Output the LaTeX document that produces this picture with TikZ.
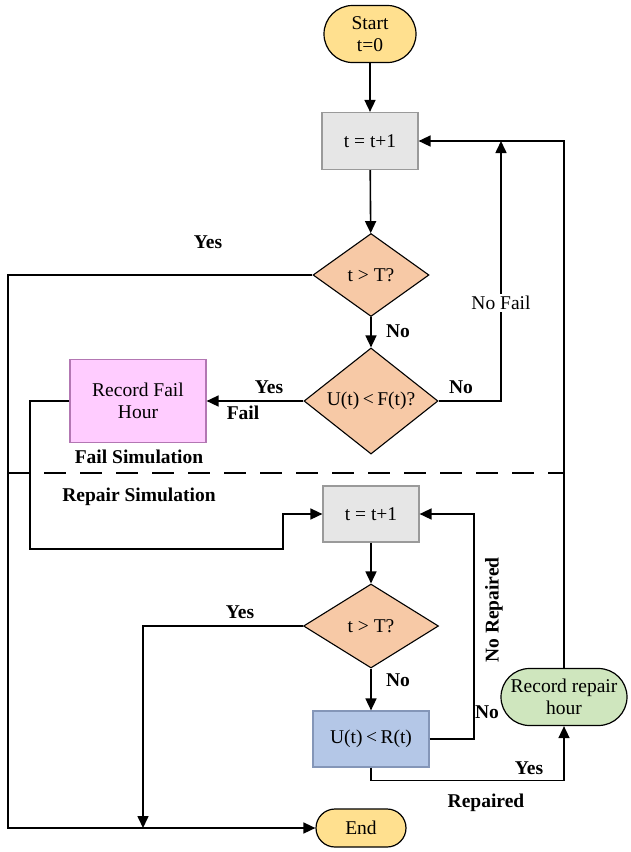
\documentclass[tikz,border=0pt]{standalone}
\usepackage{fontspec}
\setmainfont{Liberation Serif}
\usetikzlibrary{shapes.geometric,shapes.misc,arrows.meta}

\definecolor{termfill}{HTML}{FFE08F}
\definecolor{procfill}{HTML}{E6E6E6}
\definecolor{procline}{HTML}{9A9A9A}
\definecolor{decfill}{HTML}{F7C9A6}
\definecolor{failfill}{HTML}{FFCCFF}
\definecolor{failline}{HTML}{B377B3}
\definecolor{repfill}{HTML}{B4C7E7}
\definecolor{repline}{HTML}{8496B8}
\definecolor{okfill}{HTML}{CFE6BE}

\begin{document}
\begin{tikzpicture}[x=1pt,y=-1pt,
  every node/.style={font=\fontsize{19.5}{22}\selectfont},
  flow/.style={line width=1.6pt, draw=black},
  arr/.style={flow, -{Triangle[length=12pt,width=11pt]}},
  terminal/.style={rounded rectangle, draw=black, line width=1.2pt, fill=termfill,
    align=center, inner sep=2pt},
  process/.style={rectangle, draw=procline, line width=1.2pt, fill=procfill,
    align=center, inner sep=2pt},
  decision/.style={diamond, draw=black, line width=1.1pt, fill=decfill,
    align=center, inner sep=0pt},
  lbl/.style={font=\bfseries\fontsize{19.5}{22}\selectfont, inner sep=1pt}
]
\useasboundingbox (0,0) rectangle (630,852);

% nodes of the flow chart
\node[terminal, minimum width=96pt, minimum height=57pt] (start) at (370,34) {Start\\t=0};
\node[process, minimum width=96pt, minimum height=57pt] (inc1) at (370,141) {t = t+1};
\node[decision, minimum width=116pt, minimum height=83pt] (dec1) at (371,275) {t > T?};
\node[decision, minimum width=134pt, minimum height=83pt] (dec2) at (371,401)
  {U(t)\hspace{3.5pt}<\hspace{3.5pt}F(t)?};
\node[process, draw=failline, fill=failfill, minimum width=136pt, minimum height=83pt]
  (fail) at (138,401) {Record Fail\\Hour};
\node[process, minimum width=96pt, minimum height=56pt] (inc2) at (371,514) {t = t+1};
\node[decision, minimum width=135pt, minimum height=84pt] (dec3) at (371,626) {t > T?};
\node[process, draw=repline, fill=repfill, minimum width=116pt, minimum height=56pt]
  (rep) at (371,739) {U(t)\hspace{3.5pt}<\hspace{3.5pt}R(t)};
\node[terminal, fill=okfill, minimum width=130pt, minimum height=57pt]
  (rrh) at (564,697) {Record repair\\hour};
\node[terminal, minimum width=94pt, minimum height=38pt] (end) at (361,828) {End};

% routing points
\coordinate (nf) at (501,141);
\coordinate (lb) at (8,828);
\coordinate (ln) at (143,828);

% connectors
\draw[arr] (start) -- (inc1);
\draw[arr] (inc1) -- (dec1);
\draw[arr] (dec1) -- (dec2);
\draw[arr] (dec2) -- (fail);
\draw[arr] (dec2.east) -| (nf);
\draw[arr] (rrh.north) |- (inc1.east);
\draw[arr] (dec1.west) -| (lb) -- (end.west);
\draw[arr] (fail.west) -- (30,401) |- (283,549) |- (inc2.west);
\draw[arr] (inc2) -- (dec3);
\draw[arr] (dec3) -- (rep);
\draw[arr] (dec3.west) -| (ln);
\draw[arr] (rep.east) -- (474,739) |- (inc2.east);
\draw[arr] (rep.south) -- ++(0,13) -| (rrh.south);

% boundary between the two simulation stages
\draw[line width=2pt, dash pattern=on 22pt off 14pt] (8,473) -- (565,473);

% labels
\node[fill=white, inner sep=2pt] at (501,303) {No Fail};
\node[lbl] at (208,242) {Yes};
\node[lbl] at (398,331) {No};
\node[lbl] at (461,387) {No};
\node[lbl] at (269,387) {Yes};
\node[lbl] at (243,413) {Fail};
\node[lbl] at (139,457) {Fail Simulation};
\node[lbl] at (139,497) {Repair Simulation};
\node[lbl] at (240,612) {Yes};
\node[lbl] at (398,680) {No};
\node[lbl] at (487,712) {No};
\node[lbl, rotate=90] at (494,610) {No Repaired};
\node[lbl] at (529,768) {Yes};
\node[lbl] at (486,803) {Repaired};
\end{tikzpicture}
\end{document}
